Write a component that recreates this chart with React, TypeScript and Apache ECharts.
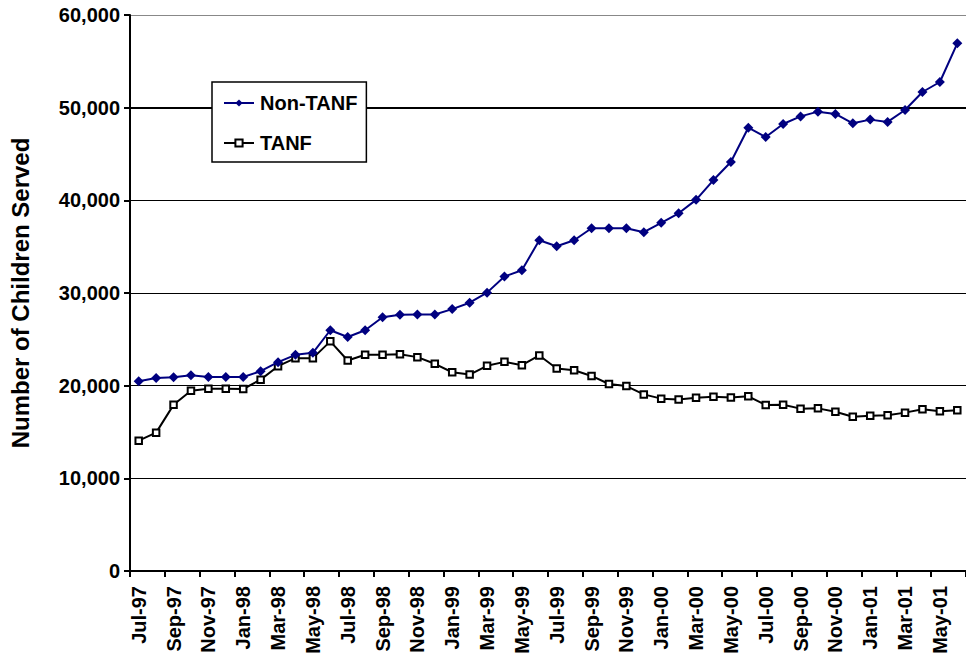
import React, { useEffect, useRef } from "react";
import * as echarts from "echarts";

const months = [
  "Jul-97", "Aug-97", "Sep-97", "Oct-97", "Nov-97", "Dec-97", "Jan-98", "Feb-98", "Mar-98", "Apr-98", "May-98", "Jun-98",
  "Jul-98", "Aug-98", "Sep-98", "Oct-98", "Nov-98", "Dec-98", "Jan-99", "Feb-99", "Mar-99", "Apr-99", "May-99", "Jun-99",
  "Jul-99", "Aug-99", "Sep-99", "Oct-99", "Nov-99", "Dec-99", "Jan-00", "Feb-00", "Mar-00", "Apr-00", "May-00", "Jun-00",
  "Jul-00", "Aug-00", "Sep-00", "Oct-00", "Nov-00", "Dec-00", "Jan-01", "Feb-01", "Mar-01", "Apr-01", "May-01", "Jun-01",
];

const nonTanf = [
  20470, 20830, 20900, 21120, 20940, 20940, 20940, 21560, 22540, 23330, 23550, 25980,
  25250, 25980, 27390, 27660, 27680, 27680, 28260, 28950, 30040, 31780, 32460, 35690,
  35040, 35690, 36990, 36990, 36990, 36560, 37580, 38600, 40050, 42190, 44140, 47840,
  46830, 48240, 49060, 49570, 49320, 48310, 48710, 48460, 49750, 51690, 52770, 56940,
];

const tanf = [
  14060, 14930, 17930, 19460, 19670, 19670, 19640, 20650, 22100, 22970, 22970, 24780,
  22720, 23330, 23330, 23400, 23080, 22360, 21450, 21200, 22140, 22570, 22210, 23260,
  21850, 21670, 21050, 20180, 19960, 19060, 18600, 18520, 18700, 18810, 18710, 18850,
  17910, 17950, 17520, 17550, 17190, 16650, 16760, 16800, 17090, 17450, 17230, 17340,
];

const yTicks = { min: 0, max: 60000, interval: 10000 };

const FONT = 'Arial, "Liberation Sans", sans-serif';

export default function App() {
  const ref = useRef<HTMLDivElement>(null);
  useEffect(() => {
    document.body.style.margin = "0";
    if (!ref.current) return;
    const chart = echarts.init(ref.current, null, { renderer: "svg" });
    chart.setOption({
      animation: false,
      backgroundColor: "#fff",
      grid: { left: 126, top: 15, right: -7, bottom: 87, containLabel: false },
      legend: {
        orient: "vertical",
        left: 212,
        top: 82,
        padding: [10, 9, 8, 11],
        itemGap: 18,
        itemWidth: 30,
        itemHeight: 9,
        backgroundColor: "#fff",
        borderColor: "#000",
        borderWidth: 1.5,
        textStyle: { fontFamily: FONT, fontSize: 20, fontWeight: "bold", color: "#000", padding: [0, 0, 0, 1], lineHeight: 22 },
        data: ["Non-TANF", "TANF"],
      },
      xAxis: {
        type: "category",
        data: months,
        boundaryGap: true,
        axisLine: { lineStyle: { color: "#000", width: 2 } },
        axisTick: { show: true, interval: 1, length: 6, lineStyle: { color: "#000", width: 2 } },
        axisLabel: {
          interval: 1,
          rotate: 90,
          margin: 15,
          fontFamily: FONT,
          fontSize: 20,
          fontWeight: "bold",
          color: "#000",
        },
        splitLine: { show: false },
      },
      yAxis: {
        type: "value",
        min: yTicks.min,
        max: yTicks.max,
        interval: yTicks.interval,
        name: "Number of Children Served",
        nameLocation: "middle",
        nameGap: 98,
        nameTextStyle: { fontFamily: FONT, fontSize: 24, fontWeight: "bold", color: "#000" },
        axisLine: { show: true, lineStyle: { color: "#000", width: 2 } },
        axisTick: { show: true, length: 6, lineStyle: { color: "#000", width: 2 } },
        axisLabel: {
          margin: 10,
          fontFamily: FONT,
          fontSize: 20,
          fontWeight: "bold",
          color: "#000",
          formatter: (v: number) => v.toLocaleString("en-US"),
        },
        splitLine: {
          show: true,
          lineStyle: {
            color: ["#000", "#000", "#000", "#000", "#000", "#000", "#888"],
            width: 1.2,
          },
        },
      },
      series: [
        {
          name: "Non-TANF",
          type: "line",
          data: nonTanf,
          symbol: "diamond",
          symbolSize: 10,
          lineStyle: { color: "#000080", width: 2 },
          itemStyle: { color: "#000080" },
          z: 3,
          markLine: {
            silent: true,
            symbol: "none",
            label: { show: false },
            lineStyle: { color: "#000", width: 2.2, type: "solid" },
            data: [{ yAxis: 50000 }],
            z: 1,
          },
        },
        {
          name: "TANF",
          type: "line",
          data: tanf,
          symbol: "rect",
          symbolSize: 6.5,
          lineStyle: { color: "#000", width: 2 },
          itemStyle: { color: "#fff", borderColor: "#000", borderWidth: 2 },
          z: 2,
        },
      ],
    });
    return () => chart.dispose();
  }, []);
  return <div ref={ref} style={{ width: 966, height: 658 }} />;
}
